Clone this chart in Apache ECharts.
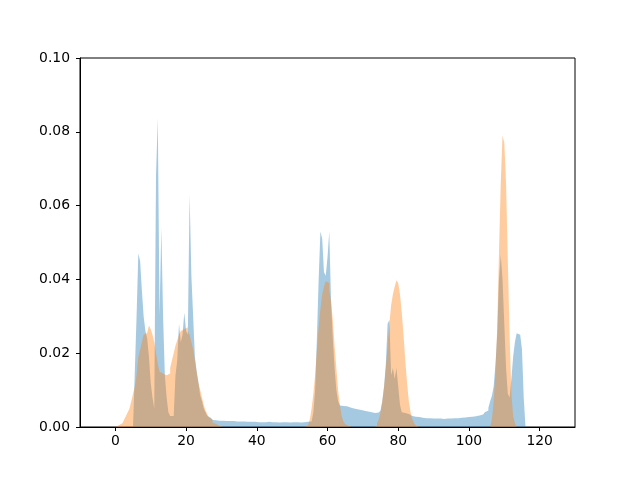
<!DOCTYPE html>
<html>
<head>
<meta charset="utf-8">
<script src="https://cdn.jsdelivr.net/npm/echarts@6/dist/echarts.min.js"></script>
<style>
html,body{margin:0;padding:0;background:#fff;}
#chart{width:640px;height:480px;}
</style>
</head>
<body>
<div id="chart"></div>
<script>
// ---- data (histogram densities, bin width 0.5) ----
const binWidth = 0.5;
const xTicks = [0, 20, 40, 60, 80, 100, 120];
const yTicks = [0, 0.02, 0.04, 0.06, 0.08, 0.10];

// blue series, one contiguous run of bins starting at 5.5
const blueStart = 5.5;
const blueValues = [
  0.015, 0.030, 0.047, 0.045, 0.037, 0.030, 0.026, 0.024, 0.019, 0.012,
  0.008, 0.005, 0.068, 0.0837, 0.030, 0.054, 0.030, 0.014, 0.008, 0.004,
  0.003, 0.003, 0.0032, 0.014, 0.018, 0.028, 0.023, 0.025, 0.031, 0.026,
  0.025, 0.063, 0.041, 0.030, 0.019, 0.015, 0.012, 0.0085, 0.007, 0.005,
  0.004, 0.003, 0.0025, 0.0021, 0.0019,
  // 28.0 .. 55.5
  0.0018, 0.0017, 0.0017, 0.0016, 0.0017, 0.0016, 0.0016, 0.0015, 0.0016, 0.0015,
  0.0016, 0.0015, 0.0015, 0.0014, 0.0015, 0.0014, 0.0015, 0.0014, 0.0014, 0.0015,
  0.0014, 0.0013, 0.0014, 0.0014, 0.0013, 0.0014, 0.0013, 0.0014, 0.0013, 0.0013,
  0.0014, 0.0013, 0.0013, 0.0014, 0.0013, 0.0013, 0.0012, 0.0013, 0.0013, 0.0012,
  0.0013, 0.0013, 0.0012, 0.0013, 0.0013, 0.0012, 0.0013, 0.0013, 0.0012, 0.0013,
  0.0013, 0.0013, 0.0014, 0.0014, 0.0015, 0.002,
  // 56.0 .. 75.5
  0.004, 0.010, 0.024, 0.040, 0.053, 0.051, 0.042, 0.041, 0.046, 0.053,
  0.034, 0.024, 0.016, 0.010, 0.007, 0.0058, 0.0057, 0.0056, 0.0056, 0.0055,
  0.0053, 0.0052, 0.005, 0.005, 0.0048, 0.0047, 0.0046, 0.0045, 0.0044, 0.0043,
  0.0042, 0.0041, 0.004, 0.0039, 0.0038, 0.0038, 0.0039, 0.004, 0.0045, 0.007,
  // 76.0 .. 85.5
  0.011, 0.017, 0.028, 0.029, 0.014, 0.016, 0.013, 0.016, 0.011, 0.006,
  0.004, 0.0038, 0.0037, 0.0035, 0.0032, 0.003, 0.0029, 0.0028, 0.0027, 0.0027,
  // 86.0 .. 105.5
  0.0026, 0.0025, 0.0025, 0.0024, 0.0024, 0.0024, 0.0023, 0.0023, 0.0023, 0.0023,
  0.0022, 0.0023, 0.0022, 0.0022, 0.0022, 0.0023, 0.0022, 0.0023, 0.0023, 0.0024,
  0.0024, 0.0024, 0.0025, 0.0025, 0.0025, 0.0026, 0.0026, 0.0027, 0.0027, 0.0028,
  0.0028, 0.0029, 0.003, 0.0031, 0.0032, 0.0034, 0.0036, 0.004, 0.0045, 0.0052,
  // 106.0 .. 115.5
  0.007, 0.0085, 0.011, 0.017, 0.025, 0.040, 0.0466, 0.040, 0.028, 0.016,
  0.009, 0.008, 0.013, 0.019, 0.023, 0.0254, 0.025, 0.0254, 0.021, 0.008
];

// orange series, four runs of bins
const orangeStartA = 0.0;
const orangeA = [
  0.0003, 0.0005, 0.0008, 0.001, 0.0015, 0.002, 0.003, 0.004, 0.005, 0.007,
  0.009, 0.011, 0.014, 0.019, 0.021, 0.023, 0.025, 0.0255, 0.026, 0.0275,
  0.0265, 0.025, 0.023, 0.020, 0.017, 0.015, 0.0145, 0.014, 0.014, 0.014,
  0.0145, 0.016, 0.018, 0.020, 0.022, 0.0235, 0.025, 0.026, 0.0265, 0.027,
  0.027, 0.026, 0.025, 0.023, 0.021, 0.018, 0.015, 0.012, 0.010, 0.008,
  0.006, 0.0045, 0.0035, 0.0025, 0.002, 0.0012, 0.0008, 0.0005, 0.0003, 0.0002
];
const orangeStartB = 54.0;
const orangeB = [
  0.0005, 0.001, 0.002, 0.005, 0.009, 0.014, 0.021, 0.027, 0.032, 0.036,
  0.038, 0.0395, 0.039, 0.037, 0.034, 0.029, 0.022, 0.016, 0.010, 0.006,
  0.003, 0.0015, 0.0008, 0.0003
];
const orangeStartC = 73.5;
const orangeC = [
  0.0003, 0.001, 0.002, 0.004, 0.007, 0.011, 0.016, 0.022, 0.028, 0.033,
  0.036, 0.038, 0.0398, 0.039, 0.036, 0.031, 0.025, 0.018, 0.012, 0.007,
  0.004, 0.002, 0.001, 0.0004
];
const orangeStartD = 106.5;
const orangeD = [
  0.002, 0.007, 0.015, 0.027, 0.047, 0.066, 0.079, 0.077, 0.066, 0.045,
  0.025, 0.009, 0.003, 0.001
];

// ---- build step outlines ----
const rangeMin = 0, rangeMax = 116;
function buildDense(runs) {
  const n = Math.round((rangeMax - rangeMin) / binWidth);
  const dense = new Array(n).fill(0);
  runs.forEach(([start, vals]) => {
    const off = Math.round((start - rangeMin) / binWidth);
    vals.forEach((v, i) => { if (off + i < n) dense[off + i] = v; });
  });
  return dense;
}
function toSteps(dense) {
  const pts = [[rangeMin, 0]];
  dense.forEach((v, i) => pts.push([rangeMin + i * binWidth, v]));
  pts.push([rangeMax, 0]);
  return pts;
}
const blueData = toSteps(buildDense([[blueStart, blueValues]]));
const orangeData = toSteps(buildDense([
  [orangeStartA, orangeA], [orangeStartB, orangeB],
  [orangeStartC, orangeC], [orangeStartD, orangeD]
]));

const font = 'DejaVu Sans';
const chart = echarts.init(document.getElementById('chart'), null, {renderer: 'canvas'});
chart.setOption({
  animation: false,
  backgroundColor: '#fff',
  grid: {left: 80, right: 65, top: 58, bottom: 53, show: true, borderColor: '#000', borderWidth: 1, backgroundColor: 'transparent'},
  xAxis: {
    type: 'value', min: -10, max: 130,
    axisLine: {show: true, onZero: false, lineStyle: {color: '#000', width: 1}},
    axisTick: {show: true, length: 4, lineStyle: {color: '#000'}, customValues: xTicks},
    axisLabel: {color: '#000', fontFamily: font, fontSize: 13.9, margin: 7, customValues: xTicks},
    splitLine: {show: false}
  },
  yAxis: {
    type: 'value', min: 0, max: 0.1, interval: 0.02,
    axisLine: {show: true, onZero: false, lineStyle: {color: '#000', width: 1}},
    axisTick: {show: true, length: 4, lineStyle: {color: '#000'}, customValues: yTicks},
    axisLabel: {color: '#000', fontFamily: font, fontSize: 13.9, margin: 10,
      customValues: yTicks, formatter: v => v.toFixed(2)},
    splitLine: {show: false}
  },
  series: [
    {type: 'line', step: 'end', data: blueData, symbol: 'none', silent: true,
     lineStyle: {width: 0, opacity: 0}, areaStyle: {color: '#1f77b4', opacity: 0.4}},
    {type: 'line', step: 'end', data: orangeData, symbol: 'none', silent: true,
     lineStyle: {width: 0, opacity: 0}, areaStyle: {color: '#ff7f0e', opacity: 0.4}}
  ]
});
</script>
</body>
</html>
